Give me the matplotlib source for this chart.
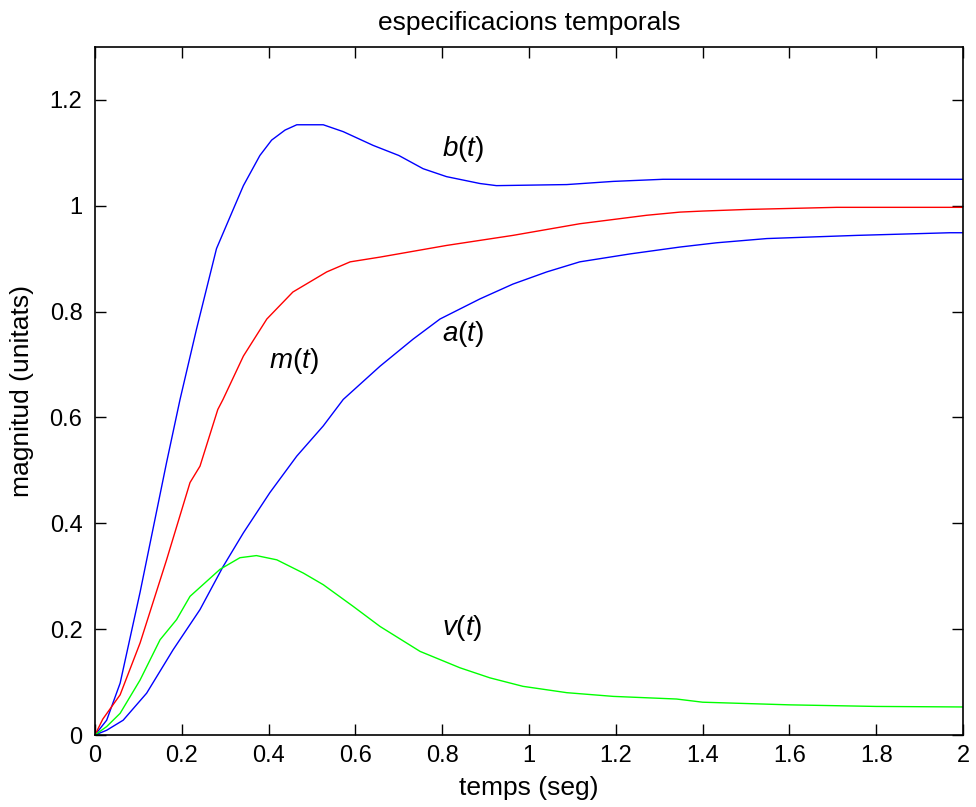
import matplotlib
matplotlib.use('Agg')
from matplotlib import pyplot as plt

plt.rcParams['font.family'] = ['Liberation Sans', 'DejaVu Sans']
plt.rcParams['mathtext.fontset'] = 'custom'
plt.rcParams['mathtext.rm'] = 'Liberation Sans'
plt.rcParams['mathtext.it'] = 'Liberation Sans:italic'

# b(t) - upper blue
b_t = [0, 0.027, 0.058, 0.104, 0.165, 0.196, 0.234, 0.280, 0.319, 0.342, 0.380, 0.407,
       0.438, 0.465, 0.526, 0.572, 0.641, 0.700, 0.756, 0.810, 0.887, 0.925, 1.087, 1.194,
       1.309, 2.0]
b_y = [0, 0.028, 0.098, 0.27, 0.515, 0.634, 0.767, 0.919, 0.994, 1.038, 1.095, 1.124,
       1.143, 1.153, 1.153, 1.140, 1.114, 1.095, 1.070, 1.055, 1.042, 1.038, 1.040, 1.046,
       1.050, 1.050]

# m(t) - red
m_t = [0, 0.018, 0.058, 0.104, 0.165, 0.219, 0.242, 0.283, 0.295, 0.342, 0.396, 0.456,
       0.534, 0.588, 0.657, 0.810, 0.963, 1.117, 1.271, 1.348, 1.401, 1.502, 1.709, 2.0]
m_y = [0, 0.030, 0.076, 0.174, 0.331, 0.477, 0.508, 0.615, 0.634, 0.716, 0.786, 0.837,
       0.875, 0.894, 0.903, 0.925, 0.944, 0.966, 0.982, 0.988, 0.990, 0.993, 0.997, 0.997]

# a(t) - lower blue
a_t = [0, 0.027, 0.065, 0.119, 0.180, 0.242, 0.295, 0.342, 0.403, 0.465, 0.526, 0.572,
       0.657, 0.733, 0.795, 0.887, 0.963, 1.041, 1.117, 1.233, 1.348, 1.432, 1.548, 1.755,
       1.970, 2.0]
a_y = [0, 0.009, 0.028, 0.079, 0.161, 0.237, 0.318, 0.382, 0.458, 0.527, 0.584, 0.634,
       0.697, 0.748, 0.786, 0.824, 0.852, 0.875, 0.894, 0.909, 0.922, 0.930, 0.938, 0.944,
       0.949, 0.949]

# v(t) - green
v_t = [0, 0.027, 0.058, 0.104, 0.150, 0.188, 0.219, 0.288, 0.334, 0.372, 0.419, 0.480,
       0.526, 0.595, 0.657, 0.749, 0.841, 0.910, 0.986, 1.087, 1.194, 1.340, 1.4, 1.6,
       1.8, 2.0]
v_y = [0, 0.016, 0.041, 0.104, 0.180, 0.218, 0.262, 0.313, 0.335, 0.339, 0.331, 0.306,
       0.284, 0.243, 0.205, 0.158, 0.127, 0.108, 0.092, 0.080, 0.073, 0.068, 0.062, 0.057,
       0.054, 0.053]

fig = plt.figure(figsize=(9.76, 8.07), dpi=100)
ax = fig.add_axes([0.0973, 0.0892, 0.8894, 0.8526])

ax.plot(b_t, b_y, color='#0000ff', lw=1)
ax.plot(m_t, m_y, color='#ff0000', lw=1)
ax.plot(a_t, a_y, color='#0000ff', lw=1)
ax.plot(v_t, v_y, color='#00ff00', lw=1)

ax.text(0.80, 1.108, r'$b(t)$', fontsize=20, va='center')
ax.text(0.40, 0.706, r'$m(t)$', fontsize=20, va='center')
ax.text(0.80, 0.758, r'$a(t)$', fontsize=20, va='center')
ax.text(0.80, 0.203, r'$v(t)$', fontsize=20, va='center')

ax.set_xlim(0, 2)
ax.set_ylim(0, 1.3)
ax.set_xticks([0, 0.2, 0.4, 0.6, 0.8, 1, 1.2, 1.4, 1.6, 1.8, 2])
ax.set_xticklabels(['0', '0.2', '0.4', '0.6', '0.8', '1', '1.2', '1.4', '1.6', '1.8', '2'])
ax.set_yticks([0, 0.2, 0.4, 0.6, 0.8, 1, 1.2])
ax.set_yticklabels(['0', '0.2', '0.4', '0.6', '0.8', '1', '1.2'])
ax.tick_params(direction='in', top=True, right=True, length=8, width=1, labelsize=17)
ax.tick_params(axis='x', pad=7)
ax.tick_params(axis='y', pad=9)
for s in ax.spines.values():
    s.set_linewidth(1.2)

ax.set_xlabel('temps (seg)', fontsize=19, labelpad=7)
ax.set_ylabel('magnitud (unitats)', fontsize=19, labelpad=11)
ax.set_title('especificacions temporals', fontsize=19, pad=12)

fig.savefig('out.png', dpi=100)
